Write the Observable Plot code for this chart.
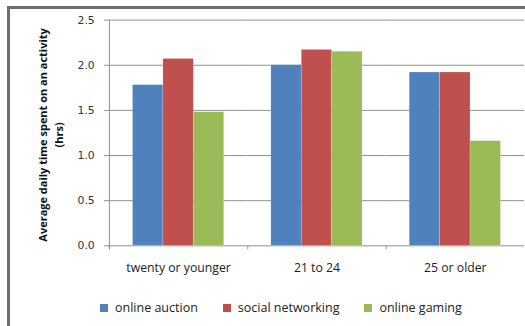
<!DOCTYPE html>
<html>
<head>
<meta charset="utf-8">
<script src="https://cdn.jsdelivr.net/npm/d3@7"></script>
<script src="https://cdn.jsdelivr.net/npm/@observablehq/plot@0.6"></script>
<style>
  html, body { margin: 0; padding: 0; background: #fff; overflow: hidden; width: 525px; height: 326px; }
  #wrap { position: relative; width: 525px; height: 326px; overflow: hidden; }
  #frame { position: absolute; left: 7px; top: 6px; width: 600px; height: 400px;
           border-top: 3px solid #6e6e6e; border-left: 3px solid #6e6e6e; box-sizing: border-box; pointer-events: none; }
  #chart { position: absolute; left: 0; top: 0; }
  #legend { position: absolute; left: 100px; top: 299px; display: flex; gap: 25px;
            font-family: "Open Sans", sans-serif; font-size: 12.5px; color: #222; align-items: center; }
  #legend .item { display: flex; align-items: center; }
  #legend .sw { width: 8px; height: 8px; margin-right: 7px; }
</style>
</head>
<body>
<div id="wrap">
  <div id="chart"></div>
  <div id="frame"></div>
  <div id="legend"></div>
</div>
<script>
const groups = ["twenty or younger", "21 to 24", "25 or older"];
const series = ["online auction", "social networking", "online gaming"];
const onlineAuction = [1.78, 2.0, 1.92];
const socialNetworking = [2.07, 2.17, 1.92];
const onlineGaming = [1.48, 2.15, 1.16];
const colors = ["#4F81BD", "#C0504D", "#9BBB59"];
const yTicks = [0, 0.5, 1.0, 1.5, 2.0, 2.5];
const yTitle = "Average daily time spent on an activity\n(hrs)";

const valuesBySeries = [onlineAuction, socialNetworking, onlineGaming];
const data = [];
groups.forEach((g, i) => series.forEach((s, j) => data.push({group: g, series: s, value: valuesBySeries[j][i]})));

const chart = Plot.plot({
  width: 535,
  height: 326,
  marginLeft: 110,
  marginRight: 0,
  marginTop: 20,
  marginBottom: 76,
  style: {fontFamily: "'Open Sans', sans-serif", background: "transparent", overflow: "visible"},
  fx: {domain: groups, paddingInner: 0, paddingOuter: 0, axis: null, label: null},
  x: {domain: series, paddingInner: 0, paddingOuter: 0.735, axis: null, label: null},
  y: {domain: [0, 2.5], axis: null, label: null},
  color: {domain: series, range: colors},
  marks: [
    Plot.gridY(yTicks, {stroke: "#8e8e8e", strokeOpacity: 1, strokeWidth: 1}),
    Plot.barY(data, {fx: "group", x: "series", y: "value", fill: "series", stroke: "#ffffff", strokeOpacity: 0.35, strokeWidth: 0.6}),
    Plot.axisY(yTicks, {tickFormat: d3.format(".1f"), tickSize: 5, tickPadding: 10, stroke: "#8e8e8e",
      fontSize: 11, fontFamily: "'DejaVu Sans', sans-serif", fill: "#333", label: null}),
    Plot.axisFx({anchor: "bottom", tickSize: 0, tickPadding: 18, fontSize: 12.5, fill: "#222", label: null}),
    Plot.text([yTitle], {fx: () => groups[0], frameAnchor: "left", textAnchor: "middle", dx: -61, dy: 2, rotate: -90,
      fontWeight: "bold", fontSize: 11.2, fill: "#111", lineHeight: 1.5})
  ]
});
document.getElementById("chart").appendChild(chart);

// axis line and between-category tick marks from the plot's own scales
const fx = chart.scale("fx");
const y = chart.scale("y");
const svg = d3.select(chart);
const x0 = fx.apply(groups[0]);
const y0 = y.apply(0);
const yTop = y.apply(2.5);
const g = svg.append("g").attr("stroke", "#8e8e8e").attr("stroke-width", 1);
g.append("line").attr("x1", x0 + 0.5).attr("x2", x0 + 0.5).attr("y1", yTop).attr("y2", y0 + 4);
groups.forEach(d => {
  const xb = fx.apply(d) + 0.5;
  g.append("line").attr("x1", xb).attr("x2", xb).attr("y1", y0).attr("y2", y0 + 4);
});

// legend
const legend = d3.select("#legend");
series.forEach((s, i) => {
  const it = legend.append("div").attr("class", "item");
  it.append("div").attr("class", "sw").style("background", colors[i]);
  it.append("span").text(s);
});
</script>
</body>
</html>
